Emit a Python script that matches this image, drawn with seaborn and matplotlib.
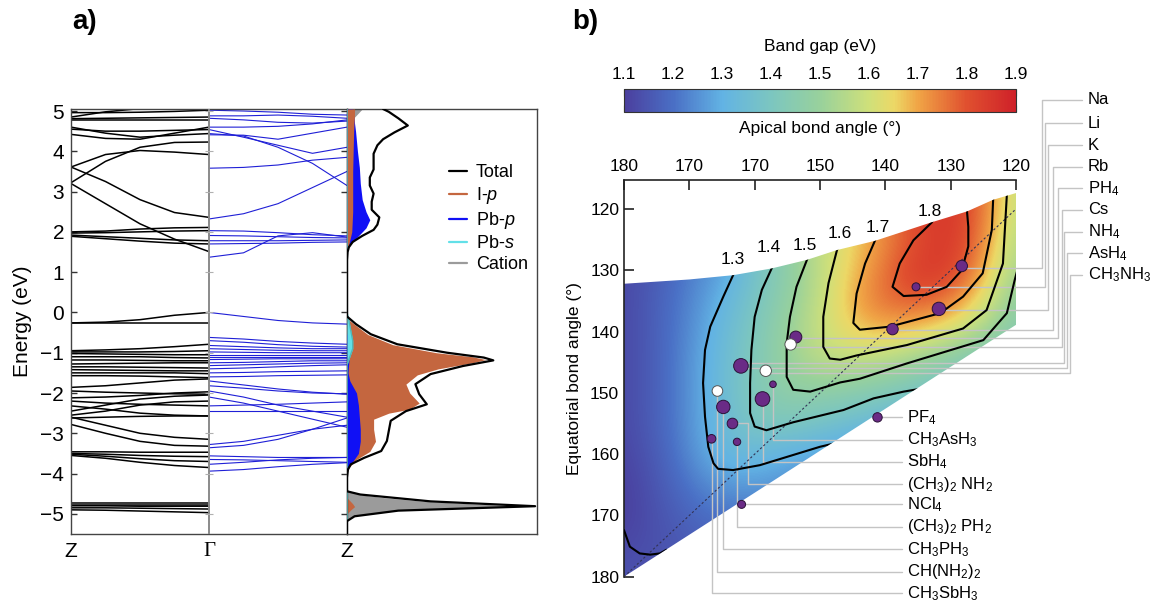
import numpy as np
import pandas as pd
import matplotlib
matplotlib.use("Agg")
import matplotlib.pyplot as plt
import seaborn as sns
from matplotlib.colors import LinearSegmentedColormap, Normalize
from matplotlib.cm import ScalarMappable
from matplotlib.patches import Polygon
from matplotlib.lines import Line2D

sns.set_theme(style="white")
plt.rcParams["font.family"] = ["Liberation Sans", "DejaVu Sans"]
plt.rcParams["mathtext.fontset"] = "custom"
plt.rcParams["mathtext.rm"] = "Liberation Sans"
plt.rcParams["mathtext.it"] = "Liberation Sans:italic"
plt.rcParams["mathtext.bf"] = "Liberation Sans:bold"
for key in ("text.color", "axes.labelcolor", "xtick.color", "ytick.color"):
    plt.rcParams[key] = "black"

# ---------------- (a) band structure: energies (eV) at five k-points ----------------
k_frac = [0.0, 0.25, 0.5, 0.75, 1.0]

# Z -> Gamma (black)
bands_z_gamma = [
    [4.85, 4.98, 5.06, 5.06, 5.06], [4.96, 4.96, 4.97, 4.99, 5.02],
    [4.81, 4.82, 4.83, 4.84, 4.85], [4.77, 4.77, 4.77, 4.77, 4.77],
    [4.60, 4.45, 4.35, 4.40, 4.44], [4.55, 4.50, 4.50, 4.52, 4.54],
    [4.42, 4.32, 4.30, 4.45, 4.60], [3.61, 3.92, 4.02, 3.98, 3.92],
    [3.22, 3.75, 4.10, 4.22, 4.23], [3.61, 3.25, 2.80, 2.48, 2.36],
    [3.20, 2.70, 2.20, 1.82, 1.51], [2.00, 2.02, 2.07, 2.10, 2.11],
    [1.97, 1.98, 2.00, 2.02, 2.03], [1.92, 1.88, 1.84, 1.80, 1.78],
    [1.89, 1.83, 1.77, 1.72, 1.70],
    [-0.26, -0.24, -0.18, -0.07, 0.00], [-0.26, -0.26, -0.26, -0.26, -0.26],
    [-0.95, -0.93, -0.90, -0.85, -0.79], [-0.98, -0.98, -0.98, -0.97, -0.95],
    [-1.02, -1.03, -1.04, -1.05, -1.05], [-1.10, -1.10, -1.10, -1.12, -1.13],
    [-1.18, -1.18, -1.19, -1.20, -1.20], [-1.28, -1.27, -1.26, -1.25, -1.25],
    [-1.35, -1.35, -1.36, -1.37, -1.38], [-1.42, -1.43, -1.44, -1.45, -1.45],
    [-1.50, -1.50, -1.50, -1.50, -1.52], [-1.57, -1.57, -1.58, -1.60, -1.62],
    [-1.86, -1.82, -1.75, -1.68, -1.65], [-1.95, -1.98, -2.00, -2.02, -2.03],
    [-2.12, -2.10, -2.06, -2.00, -1.97], [-2.45, -2.30, -2.15, -2.08, -2.05],
    [-2.55, -2.45, -2.30, -2.22, -2.20], [-2.20, -2.25, -2.28, -2.30, -2.32],
    [-2.32, -2.40, -2.50, -2.55, -2.57], [-2.62, -2.60, -2.58, -2.57, -2.57],
    [-2.60, -2.80, -3.00, -3.10, -3.15], [-2.78, -3.00, -3.20, -3.30, -3.32],
    [-3.46, -3.46, -3.47, -3.47, -3.47], [-3.50, -3.52, -3.55, -3.57, -3.58],
    [-3.52, -3.57, -3.63, -3.68, -3.70], [-3.55, -3.62, -3.72, -3.80, -3.85],
    [-4.73, -4.73, -4.73, -4.73, -4.73], [-4.77, -4.77, -4.77, -4.77, -4.77],
    [-4.80, -4.80, -4.81, -4.81, -4.81], [-4.85, -4.85, -4.86, -4.87, -4.88],
    [-4.90, -4.91, -4.93, -4.95, -4.97],
]

# Gamma -> Z (blue)
bands_gamma_z = [
    [5.02, 5.00, 4.97, 4.92, 4.90], [4.88, 4.88, 4.90, 4.87, 4.82],
    [4.82, 4.78, 4.72, 4.70, 4.75], [4.60, 4.60, 4.62, 4.68, 4.78],
    [4.54, 4.35, 4.15, 3.95, 4.10], [4.41, 4.40, 4.30, 4.45, 4.60],
    [4.44, 4.38, 4.10, 3.70, 3.15], [3.58, 3.60, 3.66, 3.78, 3.85],
    [2.32, 2.45, 2.70, 3.10, 3.50], [1.37, 1.48, 1.90, 1.98, 1.87],
    [2.03, 2.02, 1.98, 1.93, 1.90], [1.91, 1.90, 1.88, 1.86, 1.85],
    [1.78, 1.78, 1.78, 1.79, 1.80], [1.70, 1.71, 1.72, 1.74, 1.75],
    [0.00, -0.10, -0.20, -0.26, -0.29], [-0.62, -0.66, -0.72, -0.76, -0.79],
    [-0.70, -0.74, -0.80, -0.84, -0.86], [-0.82, -0.85, -0.88, -0.90, -0.90],
    [-0.90, -0.92, -0.94, -0.95, -0.95], [-0.98, -0.99, -1.00, -1.00, -1.00],
    [-1.05, -1.05, -1.05, -1.05, -1.05], [-1.10, -1.10, -1.10, -1.10, -1.10],
    [-1.17, -1.16, -1.15, -1.15, -1.15], [-1.25, -1.24, -1.22, -1.20, -1.20],
    [-1.32, -1.30, -1.28, -1.26, -1.25], [-1.40, -1.38, -1.35, -1.32, -1.30],
    [-1.50, -1.49, -1.47, -1.46, -1.45], [-1.60, -1.59, -1.57, -1.56, -1.55],
    [-1.70, -1.80, -1.90, -1.98, -2.03], [-1.82, -1.88, -1.95, -2.00, -2.02],
    [-1.95, -2.10, -2.30, -2.45, -2.60], [-2.10, -2.25, -2.45, -2.65, -2.85],
    [-2.45, -2.45, -2.45, -2.45, -2.45], [-2.32, -2.30, -2.28, -2.25, -2.22],
    [-3.36, -3.30, -3.15, -2.90, -2.62], [-3.28, -3.20, -3.05, -2.90, -2.80],
    [-3.56, -3.58, -3.60, -3.60, -3.60], [-3.65, -3.66, -3.68, -3.70, -3.72],
    [-3.77, -3.72, -3.66, -3.62, -3.60], [-3.94, -3.90, -3.83, -3.77, -3.73],
]

# ---------------- (a) density of states (arbitrary units) ----------------
total_e = [5.05, 4.98, 4.82, 4.64, 4.47, 4.3, 4.15, 3.94, 3.75, 3.55, 3.35, 3.15, 2.95,
           2.75, 2.55, 2.36, 2.18, 2.05, 1.9, 1.75, 1.62, 1.5, 1.3, -0.1, -0.29, -0.54,
           -0.79, -1.0, -1.12, -1.19, -1.33, -1.53, -1.78, -2.03, -2.28, -2.45, -2.69,
           -2.94, -3.19, -3.44, -3.61, -3.77, -3.9, -4.1, -4.44, -4.52, -4.69, -4.81,
           -4.92, -5.06, -5.18, -5.5]
total_dos = [0.19, 0.22, 0.27, 0.32, 0.25, 0.19, 0.16, 0.14, 0.14, 0.14, 0.12, 0.12, 0.14,
             0.13, 0.13, 0.17, 0.16, 0.14, 0.08, 0.03, 0.01, 0.003, 0, 0, 0.047, 0.125,
             0.265, 0.527, 0.72, 0.77, 0.61, 0.44, 0.36, 0.38, 0.42, 0.31, 0.23, 0.22,
             0.21, 0.18, 0.09, 0.02, 0.005, 0, 0, 0.07, 0.44, 0.99, 0.27, 0.04, 0, 0]

ip_e = [5.05, 4.5, 3.5, 2.5, 2.0, 1.7, 1.55, -0.15, -0.3, -0.55, -0.8, -1.0, -1.1, -1.17,
        -1.25, -1.4, -1.55, -1.78, -2.0, -2.25, -2.4, -2.5, -2.65, -2.9, -3.2, -3.45,
        -3.65, -3.85, -4.0, -4.6, -4.75, -4.82, -4.9, -5.0, -5.5]
ip_dos = [0.04, 0.035, 0.03, 0.03, 0.025, 0.01, 0, 0, 0.04, 0.11, 0.24, 0.47, 0.66, 0.73,
          0.66, 0.48, 0.37, 0.31, 0.33, 0.38, 0.33, 0.22, 0.14, 0.14, 0.15, 0.12, 0.05,
          0.01, 0, 0, 0.03, 0.04, 0.02, 0, 0]

pbp_e = [5.05, 4.5, 4.0, 3.6, 3.2, 2.8, 2.5, 2.3, 2.1, 1.9, 1.7, 1.55, -0.5, -0.9, -1.2,
         -1.5, -1.7, -2.0, -2.3, -2.6, -2.9, -3.2, -3.5, -3.7, -3.9, -5.5]
pbp_dos = [0.03, 0.045, 0.055, 0.065, 0.07, 0.08, 0.1, 0.12, 0.1, 0.06, 0.02, 0, 0, 0.015,
           0.01, 0.005, 0.015, 0.05, 0.06, 0.065, 0.07, 0.07, 0.06, 0.03, 0, 0]

pbs_e = [5.05, 0.0, -0.2, -0.45, -0.7, -0.9, -1.1, -1.3, -5.5]
pbs_dos = [0, 0, 0.01, 0.02, 0.03, 0.03, 0.015, 0, 0]

cat_e = [5.05, 4.9, 4.7, 4.5, -4.4, -4.52, -4.6, -4.69, -4.76, -4.81, -4.86, -4.92, -5.0,
         -5.06, -5.18, -5.5]
cat_dos = [0.08, 0.05, 0.01, 0, 0, 0.06, 0.2, 0.41, 0.7, 0.96, 0.55, 0.24, 0.1, 0.03, 0, 0]

# ---------------- (b) band-gap map over octahedral bond angles ----------------
apical_grid = [180, 175, 170, 165, 160, 155, 150, 145, 140, 135, 130, 125, 120]
equatorial_grid = [115, 120, 125, 130, 135, 140, 145, 150, 155, 160, 165, 170, 175, 180]
gap_grid = [
    [1.12, 1.15, 1.20, 1.27, 1.36, 1.46, 1.56, 1.66, 1.75, 1.83, 1.86, 1.76, 1.58],
    [1.12, 1.15, 1.20, 1.27, 1.36, 1.46, 1.56, 1.66, 1.75, 1.83, 1.86, 1.76, 1.58],
    [1.12, 1.15, 1.20, 1.28, 1.38, 1.48, 1.58, 1.65, 1.73, 1.81, 1.86, 1.74, 1.55],
    [1.12, 1.16, 1.22, 1.27, 1.37, 1.46, 1.57, 1.67, 1.76, 1.85, 1.84, 1.70, 1.52],
    [1.12, 1.17, 1.23, 1.31, 1.39, 1.48, 1.58, 1.69, 1.77, 1.79, 1.75, 1.63, 1.47],
    [1.12, 1.17, 1.24, 1.33, 1.41, 1.50, 1.59, 1.66, 1.68, 1.66, 1.61, 1.53, 1.44],
    [1.12, 1.17, 1.25, 1.34, 1.42, 1.50, 1.56, 1.57, 1.55, 1.50, 1.45, 1.40, 1.35],
    [1.12, 1.17, 1.25, 1.34, 1.42, 1.47, 1.47, 1.45, 1.42, 1.39, 1.35, 1.30, 1.25],
    [1.12, 1.17, 1.25, 1.34, 1.40, 1.41, 1.38, 1.35, 1.32, 1.28, 1.25, 1.22, 1.20],
    [1.11, 1.16, 1.24, 1.32, 1.33, 1.30, 1.28, 1.25, 1.22, 1.20, 1.18, 1.16, 1.15],
    [1.10, 1.15, 1.21, 1.26, 1.27, 1.25, 1.23, 1.21, 1.19, 1.17, 1.15, 1.14, 1.13],
    [1.10, 1.14, 1.18, 1.21, 1.20, 1.19, 1.18, 1.17, 1.16, 1.15, 1.14, 1.13, 1.12],
    [1.12, 1.14, 1.16, 1.17, 1.17, 1.16, 1.15, 1.14, 1.13, 1.12, 1.12, 1.12, 1.12],
    [1.14, 1.14, 1.15, 1.15, 1.15, 1.15, 1.14, 1.13, 1.12, 1.12, 1.12, 1.12, 1.12],
]

# sampled region boundary (apical, equatorial)
region_top_apical = [180, 170, 163.3, 157.4, 152, 147.4, 141.6, 133, 127.5, 123.5, 120]
region_top_equatorial = [132.2, 131.5, 130.8, 129.7, 128.3, 126.7, 125.2, 122.2, 120.4, 118.5, 117.4]
region_bottom_apical = [120, 180]
region_bottom_equatorial = [138.9, 180]

# iso-gap contours (apical, equatorial)
contour_paths = {
    1.2: ([180, 179.1, 177.6, 176.0, 174.5, 173.5],
          [172.4, 175.1, 176.2, 176.4, 176.2, 175.6]),
    1.3: ([162.8, 163.3, 164.8, 166.8, 167.6, 167.9, 167.6, 167.1, 166.3, 165.6, 163.3, 159.2, 150.0, 148.0],
          [129.8, 130.8, 134.3, 139.2, 143.0, 148.4, 153.9, 158.8, 161.5, 162.4, 162.6, 161.8, 158.8, 158.3]),
    1.4: ([157.2, 157.4, 158.9, 160.0, 160.5, 160.7, 160.7, 160.0, 158.2, 154.1, 146.4, 141.8, 137.2, 135.0],
          [129.2, 129.7, 133.2, 137.6, 143.0, 148.4, 153.3, 155.5, 156.1, 154.8, 152.8, 150.9, 149.8, 149.4]),
    1.5: ([151.8, 152.0, 153.6, 154.6, 155.1, 155.1, 154.1, 151.5, 146.9, 143.9, 136.7, 125.0, 121.4, 120.2, 119.8],
          [127.8, 128.3, 132.7, 137.6, 141.9, 147.4, 149.5, 149.8, 148.3, 147.7, 145.2, 141.4, 137.0, 131.6, 130.0]),
    1.6: ([147.2, 147.4, 148.7, 149.5, 149.5, 148.5, 146.9, 144.4, 136.7, 128.1, 124.5, 122.0, 121.4, 121.3],
          [126.2, 126.7, 132.1, 137.6, 142.5, 144.4, 144.6, 143.9, 142.2, 139.5, 136.5, 128.9, 117.7, 116.8]),
    1.7: ([141.4, 141.6, 143.1, 144.4, 144.9, 143.9, 139.3, 131.6, 128.1, 125.1, 123.7, 123.5, 123.4],
          [124.7, 125.2, 128.9, 133.8, 138.6, 139.7, 139.2, 137.0, 134.3, 130.5, 123.4, 118.5, 117.9]),
    1.8: ([132.6, 132.9, 135.7, 137.8, 138.9, 137.2, 133.7, 130.6, 128.3, 127.3, 127.3, 127.5, 127.6],
          [121.6, 122.2, 125.1, 128.9, 132.7, 134.2, 134.0, 132.7, 130.0, 126.1, 122.9, 120.4, 119.8]),
}
contour_label_levels = [1.3, 1.4, 1.5, 1.6, 1.7, 1.8]

# computed compounds: apical angle, equatorial angle, marker radius (px), known perovskite
cation_names = ["Na", "Li", "K", "Rb", "PH4", "Cs", "NH4", "CH3NH3", "CH3AsH3", "SbH4",
                "CH(NH2)2", "CH3PH3", "(CH3)2NH2", "CH3SbH3", "(CH3)2PH2", "NCl4", "PF4"]
cation_apical = [128.3, 135.3, 131.8, 138.9, 153.7, 154.5, 162.1, 158.3, 157.2, 158.8,
                 165.7, 164.8, 163.4, 166.6, 162.7, 162.0, 141.2]
cation_equatorial = [129.3, 132.7, 136.3, 139.6, 140.9, 142.1, 145.6, 146.4, 148.6, 151.0,
                     149.7, 152.3, 155.0, 157.5, 158.0, 168.2, 154.0]
cation_radius = [5.7, 4.0, 6.7, 5.7, 6.0, 5.7, 7.3, 5.7, 3.3, 7.3, 5.3, 6.7, 5.3, 4.3, 3.7, 4.0, 4.7]
cation_known = [False, False, False, False, False, True, False, True, False, False,
                True, False, False, False, False, False, False]

upper_labels = ["Na", "Li", "K", "Rb", "PH$_4$", "Cs", "NH$_4$", "AsH$_4$", "CH$_3$NH$_3$"]
upper_anchor_apical = [128.3, 135.3, 131.8, 138.9, 153.7, 154.5, 162.1, 162.1, 158.3]
upper_anchor_equatorial = [129.6, 132.7, 136.5, 139.7, 141.1, 142.5, 145.2, 146.0, 146.8]

lower_labels = ["PF$_4$", "CH$_3$AsH$_3$", "SbH$_4$", "(CH$_3$)$_2$ NH$_2$", "NCl$_4$",
                "(CH$_3$)$_2$ PH$_2$", "CH$_3$PH$_3$", "CH(NH$_2$)$_2$", "CH$_3$SbH$_3$"]
lower_anchor_apical = [141.2, 157.2, 158.8, 163.4, 162.0, 162.7, 164.8, 165.7, 166.6]
lower_anchor_equatorial = [154.0, 148.6, 151.0, 155.0, 168.2, 158.0, 152.3, 149.7, 157.5]
lower_drop_apical = [None, 157.2, 158.8, 161.0, None, 162.7, 164.8, 165.7, 166.6]

cbar_ticks = [1.1, 1.2, 1.3, 1.4, 1.5, 1.6, 1.7, 1.8, 1.9]
apical_ticks = [180, 170, 160, 150, 140, 130, 120]
apical_tick_labels = ["180", "170", "170", "150", "140", "130", "120"]
equatorial_ticks = [120, 130, 140, 150, 160, 170, 180]

# ---------------- layout ----------------
W, H = 1154, 604
fig = plt.figure(figsize=(W / 100, H / 100), dpi=100)


def fx(px):
    return px / W


def fy(py):
    return 1 - py / H


# ----- panel a -----
ax_bs = fig.add_axes([fx(71), fy(534), 276 / W, 425 / H])
ax_dos = fig.add_axes([fx(347), fy(534), 190 / W, 425 / H])
for a in (ax_bs, ax_dos):
    a.set_ylim(-5.5, 5.05)
    for s in a.spines.values():
        s.set_color("#444444")
        s.set_linewidth(1.0)

rows = [(b, k, e) for b, band in enumerate(bands_z_gamma) for k, e in zip(k_frac, band)]
df_black = pd.DataFrame(rows, columns=["band", "k", "E"])
rows = [(b, 1 + k, e) for b, band in enumerate(bands_gamma_z) for k, e in zip(k_frac, band)]
df_blue = pd.DataFrame(rows, columns=["band", "k", "E"])
sns.lineplot(data=df_black, x="k", y="E", units="band", estimator=None, sort=False,
             color="black", lw=1.1, ax=ax_bs, legend=False)
sns.lineplot(data=df_blue, x="k", y="E", units="band", estimator=None, sort=False,
             color="#1f1fd6", lw=0.8, ax=ax_bs, legend=False)
ax_bs.axvline(1, color="#8a8a8a", lw=1.4, zorder=3)
ax_bs.plot([1] * 11, list(range(-5, 6)), ls="none", marker="_", ms=6, mew=0.8,
           color="#b0b0b0", zorder=4)
ax_bs.set_xlim(0, 2)
ax_bs.set_xticks([0, 1, 2])
ax_bs.set_xticklabels(["Z", "\u0393", "Z"])
ax_bs.get_xticklabels()[1].set_fontfamily("Liberation Serif")
ax_bs.set_yticks(list(range(-5, 6)))
ax_bs.tick_params(axis="y", direction="in", length=4, width=1, left=True, right=True,
                  labelsize=15, color="#333333", pad=5)
ax_bs.tick_params(axis="x", length=0, labelsize=15, pad=6)
ax_bs.set_xlabel("")
ax_bs.set_ylabel("Energy (eV)", fontsize=15, labelpad=6)

c_ip, c_pbp, c_pbs, c_cat = "#c4663f", "#1010f5", "#62e0e8", "#9b9b9b"
ax_dos.fill_betweenx(cat_e, 0, cat_dos, color=c_cat, lw=0, zorder=1)
ax_dos.fill_betweenx(ip_e, 0, ip_dos, color=c_ip, lw=0, zorder=2)
ax_dos.fill_betweenx(pbp_e, 0, pbp_dos, color=c_pbp, lw=0, zorder=3)
ip_e_arr = np.array(ip_e)
ax_dos.fill_betweenx(ip_e, 0, ip_dos, where=ip_e_arr > 1.0, color=c_ip, lw=0, zorder=4)
ax_dos.fill_betweenx(pbs_e, 0, pbs_dos, color=c_pbs, lw=0, zorder=5)
ax_dos.plot(pbs_dos, pbs_e, color="#4fb8b8", lw=1.0, zorder=5)
sns.lineplot(x=total_dos, y=total_e, orient="y", sort=False, estimator=None,
             color="black", lw=1.6, ax=ax_dos, zorder=6)
ax_dos.set_xlim(0, 1)
ax_dos.set_xticks([])
ax_dos.set_yticks([])
ax_dos.set_xlabel("")
ax_dos.set_ylabel("")

handles = [Line2D([], [], color=c, lw=1.6) for c in ("black", c_ip, c_pbp, c_pbs, "#9b9b9b")]
ax_dos.legend(handles, ["Total", "I-$p$", "Pb-$p$", "Pb-$s$", "Cation"],
              loc="upper left", bbox_to_anchor=(0.535, 0.87), frameon=False,
              fontsize=13, handlelength=1.0, handletextpad=0.5, labelspacing=0.22,
              borderpad=0, borderaxespad=0)

fig.text(fx(85), fy(22), "a)", fontsize=20, fontweight="bold", ha="center", va="center")
fig.text(fx(585), fy(22), "b)", fontsize=20, fontweight="bold", ha="center", va="center")

# ----- panel b -----
cmap = LinearSegmentedColormap.from_list("gap", [
    (0.0, "#4b3f9e"), (0.125, "#4a6fc5"), (0.25, "#62b3e4"), (0.375, "#7cc6c0"),
    (0.5, "#98d19c"), (0.625, "#cfe07a"), (0.69, "#ecd866"), (0.75, "#f0a546"),
    (0.875, "#e0502f"), (1.0, "#cf2129")])
norm = Normalize(1.1, 1.9)

ax_b = fig.add_axes([fx(624), fy(576.7), 392 / W, (576.7 - 180) / H])
ax_b.set_xlim(180, 120)
ax_b.set_ylim(180, 115.27)

region = list(zip(region_top_apical, region_top_equatorial)) + \
    list(zip(region_bottom_apical, region_bottom_equatorial))
wedge = Polygon(region, closed=True, transform=ax_b.transData, facecolor="none",
                edgecolor="none")
ax_b.add_patch(wedge)

half = 2.5
im = ax_b.imshow(np.array(gap_grid), cmap=cmap, norm=norm, interpolation="bicubic",
                 origin="upper", aspect="auto", zorder=1,
                 extent=(apical_grid[0] + half, apical_grid[-1] - half,
                         equatorial_grid[-1] + half, equatorial_grid[0] - half))
im.set_clip_path(wedge)
ax_b.set_xlim(180, 120)
ax_b.set_ylim(180, 115.27)

diag, = ax_b.plot([180, 120], [180, 120], ls=(0, (2, 2)), lw=0.8, color="#333355", zorder=3)
diag.set_clip_path(wedge)

for lev, (xs, ys) in contour_paths.items():
    ln, = ax_b.plot(xs, ys, color="black", lw=1.5, zorder=4, solid_capstyle="round")
    ln.set_clip_path(wedge)

# contour value labels (pixel centres)
clabel_px = [(733, 260), (769, 248), (805, 246), (840, 233), (878, 228), (930, 212)]
for lev, (px, py) in zip(contour_label_levels, clabel_px):
    fig.text(fx(px), fy(py), f"{lev:.1f}", fontsize=12.5, ha="center", va="center")


def px2data(px, py):
    return ax_b.transData.inverted().transform((px, H - py))


lead_kw = dict(color="#c4c4c4", lw=1.0, zorder=2, clip_on=False)

# upper-right labels
up_vx = [1041.7, 1045.0, 1048.3, 1053.3, 1058.3, 1061.7, 1063.6, 1066.7, 1070.0]
up_ly = [100.0, 123.3, 145.0, 166.7, 188.3, 210.0, 231.7, 253.3, 275.0]
stub_x = px2data(1081.7, 0)[0]
text_x = px2data(1088.0, 0)[0]
for lab, axv, ayv, vpx, lpy in zip(upper_labels, upper_anchor_apical, upper_anchor_equatorial,
                                   up_vx, up_ly):
    vx = px2data(vpx, 0)[0]
    ly = px2data(0, lpy)[1]
    ax_b.plot([axv, vx, vx, stub_x], [ayv, ayv, ly, ly], **lead_kw)
    ax_b.text(text_x, ly, lab, fontsize=12, ha="left", va="center", clip_on=False)

# lower-right labels
low_ly = [417.7, 440.0, 461.7, 484.0, 505.7, 526.7, 549.3, 571.7, 593.3]
stub_x2 = px2data(901.7, 0)[0]
text_x2 = px2data(906.7, 0)[0]
for lab, axv, ayv, dx, lpy in zip(lower_labels, lower_anchor_apical, lower_anchor_equatorial,
                                  lower_drop_apical, low_ly):
    ly = px2data(0, lpy)[1]
    if dx is None:
        ax_b.plot([axv, stub_x2], [ayv, ayv], **lead_kw)
        ty = ayv
    else:
        ax_b.plot([axv, dx, dx, stub_x2], [ayv, ayv, ly, ly], **lead_kw)
        ty = ly
    ax_b.text(text_x2, ty, lab, fontsize=12, ha="left", va="center", clip_on=False)

sizes = [(1.44 * r) ** 2 for r in cation_radius]
faces = ["white" if k else "#6a2b86" for k in cation_known]
edges = ["#555555" if k else "#2b1238" for k in cation_known]
ax_b.scatter(cation_apical, cation_equatorial, s=sizes, c=faces, edgecolors=edges,
             linewidths=0.7, zorder=5, clip_on=False)

ax_b.xaxis.tick_top()
ax_b.set_xticks(apical_ticks)
ax_b.set_xticklabels(apical_tick_labels)
ax_b.set_yticks(equatorial_ticks)
ax_b.tick_params(axis="both", direction="in", length=7, width=1.2, labelsize=12.5,
                 color="#222222", top=True, bottom=False, left=True, right=False)
ax_b.tick_params(axis="x", pad=4)
ax_b.set_ylabel("Equatorial bond angle (\u00b0)", fontsize=12.5, labelpad=6)
for side in ("right", "bottom"):
    ax_b.spines[side].set_visible(False)
for side in ("top", "left"):
    ax_b.spines[side].set_color("#222222")
    ax_b.spines[side].set_linewidth(1.2)
fig.text(fx(820), fy(128), "Apical bond angle (\u00b0)", fontsize=12.5, ha="center", va="center")

# colour bar
cax = fig.add_axes([fx(624), fy(112), 392 / W, 23 / H])
cb = fig.colorbar(ScalarMappable(norm=norm, cmap=cmap), cax=cax, orientation="horizontal",
                  ticks=cbar_ticks)
cax.xaxis.set_ticks_position("both")
cax.set_xticklabels([f"{t:.1f}" for t in cbar_ticks])
cax.tick_params(axis="x", direction="in", length=5, width=0.8, color="#333333",
                labeltop=True, labelbottom=False, labelsize=12.5, pad=5)
cb.outline.set_linewidth(0.8)
cb.outline.set_edgecolor("#333333")
fig.text(fx(820), fy(46), "Band gap (eV)", fontsize=12.5, ha="center", va="center")

fig.savefig("out.png", dpi=100)
